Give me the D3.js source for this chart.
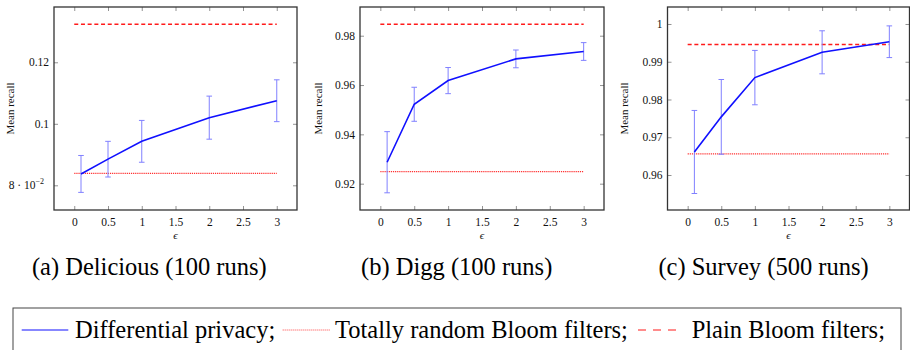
<!DOCTYPE html>
<html>
<head>
<meta charset="utf-8">
<script src="https://cdn.jsdelivr.net/npm/d3@7/dist/d3.min.js"></script>
<style>
  html, body { margin: 0; padding: 0; background: #fff; }
  svg { display: block; }
</style>
</head>
<body>
<svg id="chart" width="910" height="350"></svg>
<script>
// ---------------- data ----------------
const epsilon = [0.1, 0.5, 1, 2, 3];
const xTicks = [0, 0.5, 1, 1.5, 2, 2.5, 3];
const baselineX = [0, 3];

const deliciousMean = [0.0837, 0.0885, 0.0943, 0.1020, 0.1075];
const deliciousErr  = [0.0060, 0.0058, 0.0068, 0.0070, 0.0068];
const deliciousRandom = 0.0839;
const deliciousPlain  = 0.1324;
const deliciousYTicks = [0.08, 0.1, 0.12];
const deliciousYLabels = ["8 · 10", "0.1", "0.12"];
const deliciousYDomain = [0.07197, 0.13798];

const diggMean = [0.9287, 0.9522, 0.9618, 0.9706, 0.9736];
const diggErr  = [0.0124, 0.0069, 0.0053, 0.0036, 0.0036];
const diggRandom = 0.9249;
const diggPlain  = 0.9846;
const diggYTicks = [0.92, 0.94, 0.96, 0.98];
const diggYLabels = ["0.92", "0.94", "0.96", "0.98"];
const diggYDomain = [0.90933, 0.99164];

const surveyMean = [0.9661, 0.9754, 0.9858, 0.9925, 0.9953];
const surveyErr  = [0.0110, 0.0099, 0.0072, 0.0057, 0.0042];
const surveyRandom = 0.9656;
const surveyPlain  = 0.9946;
const surveyYTicks = [0.96, 0.97, 0.98, 0.99, 1];
const surveyYLabels = ["0.96", "0.97", "0.98", "0.99", "1"];
const surveyYDomain = [0.95073, 1.0045];

const captions = ["(a) Delicious (100 runs)", "(b) Digg (100 runs)", "(c) Survey (500 runs)"];
const legendLabels = ["Differential privacy;", "Totally random Bloom filters;", "Plain Bloom filters;"];

// ---------------- layout ----------------
const svg = d3.select("#chart");
const BLUE = "#1010ff", EBLUE = "#8080ff", RED = "#ff1a1a", DOTRED = "#ff3030";
const serifFont = "Liberation Serif";

const panels = [
  { left: 54,  right: 297,   mean: deliciousMean, err: deliciousErr, rnd: deliciousRandom, plain: deliciousPlain,
    yTicks: deliciousYTicks, yLabels: deliciousYLabels, yDomain: deliciousYDomain, ylabX: 10.5, capX: 149.3, sci: true },
  { left: 360, right: 604,   mean: diggMean, err: diggErr, rnd: diggRandom, plain: diggPlain,
    yTicks: diggYTicks, yLabels: diggYLabels, yDomain: diggYDomain, ylabX: 318.3, capX: 456.7 },
  { left: 667.5, right: 909.5, mean: surveyMean, err: surveyErr, rnd: surveyRandom, plain: surveyPlain,
    yTicks: surveyYTicks, yLabels: surveyYLabels, yDomain: surveyYDomain, ylabX: 624, capX: 763.5 }
];
const plotTop = 7, plotBottom = 210;

panels.forEach((p, i) => {
  const x = d3.scaleLinear().domain([-0.3, 3.3]).range([p.left, p.right]);
  const y = d3.scaleLinear().domain(p.yDomain).range([plotBottom, plotTop]);
  const g = svg.append("g");

  const tickStyle = sel => {
    sel.attr("font-family", serifFont);
    sel.select(".domain").remove();
    sel.selectAll(".tick line").attr("stroke", "#777").attr("stroke-width", 0.8);
    sel.selectAll(".tick text").attr("font-family", serifFont).attr("font-size", "11.5px").attr("fill", "#111");
  };
  g.append("g").attr("transform", `translate(0,${plotBottom})`)
    .call(d3.axisBottom(x).tickValues(xTicks).tickSize(-4).tickPadding(8).tickFormat(d3.format("")))
    .call(tickStyle);
  g.append("g").attr("transform", `translate(0,${plotTop})`)
    .call(d3.axisTop(x).tickValues(xTicks).tickSize(-4).tickFormat(""))
    .call(tickStyle);
  const yAxis = g.append("g").attr("transform", `translate(${p.left},0)`)
    .call(d3.axisLeft(y).tickValues(p.yTicks).tickSize(-4).tickPadding(5)
      .tickFormat((d, k) => p.yLabels[k]))
    .call(tickStyle);
  if (p.sci) {
    yAxis.selectAll(".tick text").filter((d, k) => k === 0)
      .attr("dx", "-5px")
      .append("tspan").attr("dy", "-5").attr("font-size", "8px").text("−2");
  }
  g.append("g").attr("transform", `translate(${p.right},0)`)
    .call(d3.axisRight(y).tickValues(p.yTicks).tickSize(-4).tickFormat(""))
    .call(tickStyle);

  g.append("rect").attr("x", p.left).attr("y", plotTop)
    .attr("width", p.right - p.left).attr("height", plotBottom - plotTop)
    .attr("fill", "none").attr("stroke", "#333").attr("stroke-width", 1.3);

  const hline = d3.line().x(d => x(d[0])).y(d => y(d[1]));
  g.append("path").datum(baselineX.map(v => [v, p.plain]))
    .attr("d", hline).attr("fill", "none").attr("stroke", RED)
    .attr("stroke-width", 1.5).attr("stroke-dasharray", "4,2.7");
  g.append("path").datum(baselineX.map(v => [v, p.rnd]))
    .attr("d", hline).attr("fill", "none").attr("stroke", DOTRED)
    .attr("stroke-width", 1.2).attr("stroke-dasharray", "1.2,0.9");

  const eb = g.append("g").attr("stroke", EBLUE).attr("stroke-width", 1).attr("fill", "none");
  epsilon.forEach((e, k) => {
    const cx = x(e), y0 = y(p.mean[k] - p.err[k]), y1 = y(p.mean[k] + p.err[k]);
    eb.append("line").attr("x1", cx).attr("x2", cx).attr("y1", y0).attr("y2", y1);
    eb.append("line").attr("x1", cx - 2.8).attr("x2", cx + 2.8).attr("y1", y0).attr("y2", y0);
    eb.append("line").attr("x1", cx - 2.8).attr("x2", cx + 2.8).attr("y1", y1).attr("y2", y1);
  });

  g.append("path").datum(epsilon.map((e, k) => [e, p.mean[k]]))
    .attr("d", d3.line().x(d => x(d[0])).y(d => y(d[1])))
    .attr("fill", "none").attr("stroke", BLUE).attr("stroke-width", 1.6);

  g.append("text").attr("transform", `translate(${p.ylabX + 3.5},${(plotTop + plotBottom) / 2}) rotate(-90)`)
    .attr("text-anchor", "middle").attr("font-family", serifFont).attr("font-size", "11px")
    .attr("fill", "#111").text("Mean recall");
  g.append("text").attr("x", (p.left + p.right) / 2).attr("y", 239)
    .attr("text-anchor", "middle").attr("font-family", serifFont).attr("font-size", "11px")
    .attr("font-style", "italic").attr("fill", "#111").text("ϵ");

  svg.append("text").attr("x", p.capX).attr("y", 275)
    .attr("text-anchor", "middle").attr("font-family", serifFont).attr("font-size", "24.5px")
    .attr("fill", "#000").text(captions[i]);
});

// ---------------- legend ----------------
const lg = svg.append("g");
lg.append("rect").attr("x", 13).attr("y", 308).attr("width", 888).attr("height", 60)
  .attr("fill", "none").attr("stroke", "#444").attr("stroke-width", 1);
const legendItems = [
  { x0: 21.7, x1: 68.3, tx: 75,    stroke: BLUE,   w: 1.2, dash: null },
  { x0: 282.7, x1: 330, tx: 335,   stroke: DOTRED, w: 0.9, dash: "1,1" },
  { x0: 638, x1: 680,  tx: 691.7,  stroke: RED,    w: 1.2, dash: "8,7" }
];
legendItems.forEach((it, k) => {
  const l = lg.append("line").attr("x1", it.x0).attr("x2", it.x1).attr("y1", 330).attr("y2", 330)
    .attr("stroke", it.stroke).attr("stroke-width", it.w);
  if (it.dash) l.attr("stroke-dasharray", it.dash);
  lg.append("text").attr("x", it.tx).attr("y", 337.5)
    .attr("font-family", serifFont).attr("font-size", "24.5px").attr("fill", "#000")
    .text(legendLabels[k]);
});
</script>
</body>
</html>
